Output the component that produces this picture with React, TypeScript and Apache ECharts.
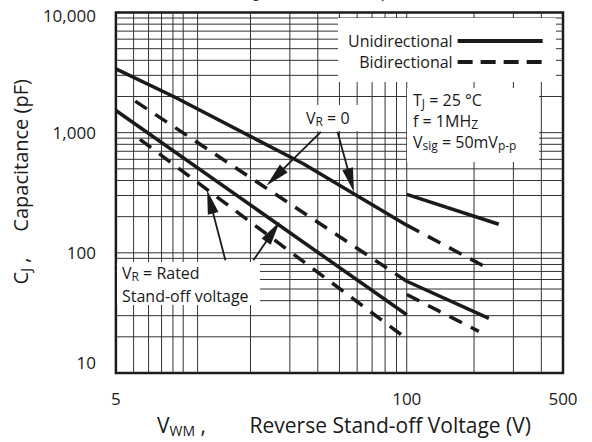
import React, { useEffect, useRef } from 'react';
import * as echarts from 'echarts';

const FONT = "'Open Sans', 'Noto Sans', sans-serif";
const INK = '#1a1a1a';

// axis ticks / labels
const xTickLabels = [5, 100, 500];
const yTickLabels = [10, 100, 1000, 10000];
const xGridValues = [6, 7, 8, 9, 10, 11.6, 20, 30, 40, 50, 60, 70, 80, 90, 100, 200, 300, 400];
const yGridValues = [
  20, 30, 40, 50, 60, 70, 80, 90, 100,
  200, 300, 400, 500, 600, 700, 800, 900, 1000,
  2000, 3000, 4000, 5000, 6000, 7000, 8000, 9000,
];

// curves: [V_WM (V), C_J (pF)]
const uniVr0: [number, number][] = [[5, 3400], [9.1, 1990], [34.3, 554], [100, 170]];
const uniVr0High: [number, number][] = [[100, 307], [258, 173]];
const biVr0: [number, number][] = [[6.1, 1830], [100, 58]];
const biVr0High: [number, number][] = [[100, 170], [226, 76]];
const uniRated: [number, number][] = [[5, 1530], [100, 30.5]];
const uniRatedHigh: [number, number][] = [[100, 58], [233, 28.5]];
const biRated: [number, number][] = [[6.4, 880], [98, 19.8]];
const biRatedHigh: [number, number][] = [[100, 45], [210, 22.2]];

// annotation arrows (data coordinates)
const vr0Arrows = [
  { from: [41.3, 1016], to: [25.8, 428] },
  { from: [49, 1016], to: [56.2, 401] },
];
const ratedArrows = [
  { from: [15.45, 86.6], to: [13.2, 266] },
  { from: [20.6, 86.6], to: [25.2, 150] },
];

const titleText = 'Figure 3. Junction Capacitance';
const conditionLines = ['T{s|J} = 25 °C', 'f = 1MH{s|Z}', 'V{s|sig} = 50mV{s|p-p}'];
const vr0Text = 'V{s|R} = 0';
const ratedLines = ['V{s|R} = Rated', 'Stand-off voltage'];

const SOLID = 'Unidirectional';
const DASH = 'Bidirectional';
const DASH_PATTERN = [14, 10];

const subStyle = (size: number, lh: number) => ({
  fontSize: size, fontFamily: FONT, fill: INK, color: INK, lineHeight: lh, verticalAlign: 'bottom',
});

function curve(name: string, data: [number, number][], dashed: boolean, extra: any = {}) {
  return {
    type: 'line',
    name,
    data,
    z: 5,
    silent: true,
    symbol: 'none',
    showSymbol: false,
    lineStyle: { color: INK, width: 3.5, type: dashed ? DASH_PATTERN : 'solid', cap: 'butt' },
    itemStyle: { color: INK },
    emphasis: { disabled: true },
    ...extra,
  };
}

export default function App() {
  const ref = useRef<HTMLDivElement>(null);
  useEffect(() => {
    if (!ref.current) return;
    const chart = echarts.init(ref.current, null, { renderer: 'svg' });
    const boxText = (x: number, y: number, text: string) => ({
      type: 'text', z: 10, x, y, silent: true,
      style: {
        text, fontSize: 16, fontFamily: FONT, fill: INK, lineHeight: 18,
        align: 'left', verticalAlign: 'middle',
        rich: { s: subStyle(12, 15) },
      },
    });
    const option: any = {
      animation: false,
      title: {
        text: titleText,
        left: 235,
        top: -20,
        textStyle: { fontSize: 15, fontWeight: 'normal', color: INK, fontFamily: "Roboto, 'Liberation Sans', sans-serif" },
      },
      grid: {
        left: 111, top: 12.5, width: 452, height: 360.5,
        show: true, borderColor: INK, borderWidth: 2.5, backgroundColor: 'transparent',
      },
      legend: {
        data: [
          { name: SOLID, lineStyle: { width: 4, type: 'solid', color: INK } },
          { name: DASH, lineStyle: { width: 4, type: [15, 8], color: INK } },
        ],
        orient: 'vertical',
        left: 348, top: 33,
        align: 'right',
        itemWidth: 85, itemHeight: 14, itemGap: 5,
        padding: 0,
        selectedMode: false,
        itemStyle: { opacity: 0 },
        lineStyle: { width: 4 },
        textStyle: { fontSize: 16, color: INK, fontFamily: FONT, width: 118 },
      },
      xAxis: {
        type: 'log', logBase: 10, min: 5, max: 500,
        splitLine: { show: false }, axisLine: { show: false }, axisTick: { show: false },
        axisLabel: {
          fontSize: 17, color: INK, fontFamily: FONT, margin: 17,
          showMinLabel: true, showMaxLabel: true,
          formatter: (v: number) => {
            const r = Math.round(v);
            return xTickLabels.includes(r) ? String(r) : '';
          },
        },
        name: 'V{s|WM} ,        Reverse Stand-off Voltage (V)',
        nameLocation: 'middle', nameGap: 40,
        nameTextStyle: {
          fontSize: 21, color: INK, fontFamily: FONT, lineHeight: 24, padding: [0, 0, 0, 9],
          rich: { s: subStyle(14, 14) },
        },
      },
      yAxis: {
        type: 'log', logBase: 10, min: 10, max: 10000,
        splitLine: { show: false }, axisLine: { show: false }, axisTick: { show: false },
        axisLabel: {
          fontSize: 17, color: INK, fontFamily: FONT, margin: 20,
          formatter: (v: number) => {
            const r = Math.round(v);
            if (!yTickLabels.includes(r)) return '';
            const t = r.toLocaleString('en-US');
            if (r === 10) return '{lo|' + t + '}';
            if (r === 10000) return '{hi|' + t + '}';
            return t;
          },
          rich: {
            lo: { fontSize: 17, color: INK, fontFamily: FONT, padding: [0, 0, 22, 0] },
            hi: { fontSize: 17, color: INK, fontFamily: FONT, padding: [5, 0, 0, 0] },
          },
        },
        name: 'C{s|J} ,     Capacitance (pF)',
        nameLocation: 'middle', nameGap: 66, nameRotate: 90,
        nameTextStyle: {
          fontSize: 20, color: INK, fontFamily: FONT, lineHeight: 24, padding: [0, 0, 0, 22],
          rich: { s: subStyle(14, 14) },
        },
      },
      graphic: [
        // white label boxes masking the grid
        { type: 'rect', z: 2, silent: true, shape: { x: 338, y: 18, width: 218, height: 64 }, style: { fill: '#fff' } },
        { type: 'rect', z: 2, silent: true, shape: { x: 407, y: 88, width: 132, height: 74 }, style: { fill: '#fff' } },
        { type: 'rect', z: 2, silent: true, shape: { x: 301, y: 105, width: 63, height: 26 }, style: { fill: '#fff' } },
        { type: 'rect', z: 2, silent: true, shape: { x: 117, y: 262, width: 143, height: 43 }, style: { fill: '#fff' } },
        boxText(306, 118, vr0Text),
        ...ratedLines.map((t, i) => boxText(122, 273 + i * 23, t)),
        ...conditionLines.map((t, i) => boxText(413, 100 + i * 21, t)),
      ],
      series: [
        {
          type: 'custom', name: 'xgrid', z: 1, silent: true,
          data: xGridValues.map((v) => [v, 100]),
          encode: { x: 0, y: 1 },
          renderItem: (params: any, api: any) => {
            const p = api.coord([api.value(0), 100]);
            const cs = params.coordSys;
            return { type: 'line', shape: { x1: p[0], y1: cs.y, x2: p[0], y2: cs.y + cs.height }, style: { stroke: '#333', lineWidth: 1 } };
          },
        },
        {
          type: 'custom', name: 'ygrid', z: 1, silent: true,
          data: yGridValues.map((v) => [10, v]),
          encode: { x: 0, y: 1 },
          renderItem: (params: any, api: any) => {
            const p = api.coord([10, api.value(1)]);
            const cs = params.coordSys;
            return { type: 'line', shape: { x1: cs.x, y1: p[1], x2: cs.x + cs.width, y2: p[1] }, style: { stroke: '#333', lineWidth: 1 } };
          },
        },
        curve(SOLID, uniVr0, false, {
          markLine: {
            silent: true,
            symbol: ['none', 'triangle'],
            symbolSize: [11, 24],
            lineStyle: { color: INK, width: 1.8, type: 'solid' },
            label: { show: false },
            emphasis: { disabled: true },
            data: [...vr0Arrows, ...ratedArrows].map((a) => [{ coord: a.from }, { coord: a.to }]),
          },
        }),
        curve(DASH, biVr0, true),
        curve(SOLID, uniRated, false),
        curve(DASH, biRated, true),
        curve(SOLID, uniVr0High, false),
        curve(DASH, biVr0High, true),
        curve(SOLID, uniRatedHigh, false),
        curve(DASH, biRatedHigh, true),
      ],
    };
    chart.setOption(option);
    return () => chart.dispose();
  }, []);
  return <div ref={ref} style={{ position: 'absolute', left: 0, top: 0, width: 592, height: 442 }} />;
}
